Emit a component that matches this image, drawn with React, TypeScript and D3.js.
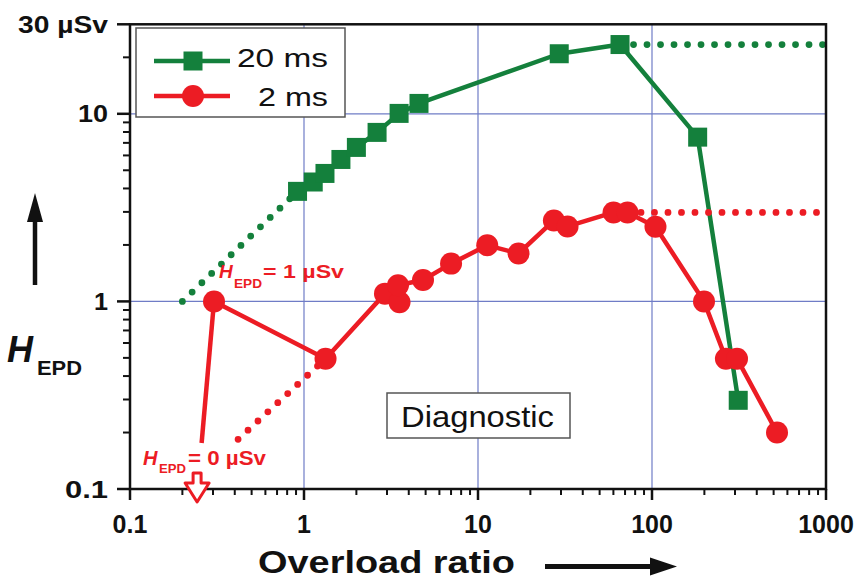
import React from "react";
import * as d3 from "d3";

const W = 859;
const H = 579;

// 20 ms series (green squares)
const greenX = [0.918, 1.13, 1.32, 1.63, 2.0, 2.63, 3.52, 4.58, 29.3, 65.5, 183, 313];
const greenY = [3.86, 4.33, 4.81, 5.71, 6.62, 7.96, 10.05, 11.36, 20.9, 23.4, 7.51, 0.297];
// 2 ms series (red circles)
const redX = [0.304, 1.33, 2.92, 3.54, 3.47, 4.83, 7.0, 11.3, 17.1, 27.3, 32.7, 60.1, 72.3, 104.7, 199, 266, 308, 523];
const redY = [1.0, 0.495, 1.1, 0.99, 1.22, 1.3, 1.59, 1.99, 1.8, 2.7, 2.51, 2.98, 2.98, 2.5, 1.0, 0.495, 0.495, 0.2];
// red solid tail toward H_EPD = 0
const redTailX = [0.258, 0.304];
const redTailY = [0.176, 1.0];
// dotted extrapolations
const greenLowX = [0.2, 0.918];
const greenLowY = [1.0, 3.86];
const greenHighX = [65.5, 1000];
const greenHighY = [23.4, 23.4];
const redLowX = [0.418, 1.33];
const redLowY = [0.184, 0.495];
const redHighX = [72.3, 1000];
const redHighY = [2.98, 2.98];
const zeroArrowX = 0.243;

const xMajor = [0.1, 1, 10, 100, 1000];
const xMajorLabels = ["0.1", "1", "10", "100", "1000"];
const yMajor = [0.1, 1, 10, 30];
const yMajorLabels = ["0.1", "1", "10", "30 µSv"];
const xGrid = [1, 10, 100];
const yGrid = [1, 10];

const GREEN = "#14803c";
const RED = "#ec1c24";
const GRID = "#6f7cc6";
const FONT = "'Liberation Sans', Arial, Helvetica, sans-serif";

export default function App() {
  const x = d3.scaleLog().domain([0.1, 1000]).range([130, 826]);
  const y = d3.scaleLog().domain([0.1, 30]).range([489, 24.3]);
  const line = d3
    .line<[number, number]>()
    .x((d) => x(d[0]))
    .y((d) => y(d[1]));
  const zip = (a: number[], b: number[]) => a.map((v, i) => [v, b[i]] as [number, number]);

  const xMinor: number[] = [];
  [0.1, 1, 10, 100].forEach((d) => {
    for (let k = 2; k <= 9; k++) xMinor.push(d * k);
  });
  const yMinor: number[] = [];
  [0.1, 1].forEach((d) => {
    for (let k = 2; k <= 9; k++) yMinor.push(d * k);
  });
  yMinor.push(20);

  const x0 = x(0.1);
  const x1 = x(1000);
  const y0 = y(0.1);
  const y1 = y(30);

  const ax = x(zeroArrowX);
  const dotted = { strokeDasharray: "0 13.5", strokeLinecap: "round" as const, strokeWidth: 6.8, fill: "none" };

  return (
    <svg width={W} height={H} style={{ position: "absolute", left: 0, top: 0, background: "#fff" }} fontFamily={FONT}>
      <rect x={0} y={0} width={W} height={H} fill="#fff" />
      {/* grid */}
      {xGrid.map((g) => (
        <line key={"gx" + g} x1={x(g)} x2={x(g)} y1={y0} y2={y1} stroke={GRID} strokeWidth={1.2} />
      ))}
      {yGrid.map((g) => (
        <line key={"gy" + g} x1={x0} x2={x1} y1={y(g)} y2={y(g)} stroke={GRID} strokeWidth={1.2} />
      ))}

      {/* green */}
      <path d={line(zip(greenLowX, greenLowY)) || ""} stroke={GREEN} {...dotted} />
      <path d={line(zip(greenHighX, greenHighY)) || ""} stroke={GREEN} {...dotted} />
      <path d={line(zip(greenX, greenY)) || ""} stroke={GREEN} strokeWidth={4.5} fill="none" strokeLinejoin="round" />
      {greenX.map((v, i) => (
        <rect key={"gs" + i} x={x(v) - 9.5} y={y(greenY[i]) - 9.5} width={19} height={19} fill={GREEN} />
      ))}

      {/* red */}
      <path d={line(zip(redLowX, redLowY)) || ""} stroke={RED} {...dotted} />
      <path d={line(zip(redHighX, redHighY)) || ""} stroke={RED} {...dotted} />
      <path d={line(zip(redTailX, redTailY)) || ""} stroke={RED} strokeWidth={4.5} fill="none" />
      <path d={line(zip(redX, redY)) || ""} stroke={RED} strokeWidth={4.5} fill="none" strokeLinejoin="round" />
      {redX.map((v, i) => (
        <circle key={"rc" + i} cx={x(v)} cy={y(redY[i])} r={11} fill={RED} />
      ))}

      {/* Diagnostic box */}
      <rect x={387} y={393} width={183} height={45} fill="#fff" stroke="#555" strokeWidth={1.5} />
      <text x={401} y={427} fontSize={30} textLength={153} lengthAdjust="spacingAndGlyphs" fill="#111">
        Diagnostic
      </text>

      {/* Legend */}
      <rect x={136} y={28} width={209} height={89} fill="#fff" stroke="#555" strokeWidth={1.5} />
      <line x1={154} x2={230} y1={61} y2={61} stroke={GREEN} strokeWidth={4.5} />
      <rect x={183.5} y={51.5} width={19} height={19} fill={GREEN} />
      <text x={237} y={67} fontSize={26} textLength={91} lengthAdjust="spacingAndGlyphs" fill="#111">
        20 ms
      </text>
      <line x1={154} x2={230} y1={96} y2={96} stroke={RED} strokeWidth={4.5} />
      <circle cx={193} cy={96} r={11} fill={RED} />
      <text x={258} y={106} fontSize={26} textLength={70} lengthAdjust="spacingAndGlyphs" fill="#111">
        2 ms
      </text>

      {/* axes frame */}
      <rect x={x0} y={y1} width={x1 - x0} height={y0 - y1} fill="none" stroke="#111" strokeWidth={2.5} />
      {xMajor.map((v) => (
        <line key={"xM" + v} x1={x(v)} x2={x(v)} y1={y0} y2={y0 + 11} stroke="#111" strokeWidth={2.5} />
      ))}
      {xMinor.map((v) => (
        <line key={"xm" + v} x1={x(v)} x2={x(v)} y1={y0} y2={y0 + 6} stroke="#111" strokeWidth={2} />
      ))}
      {yMajor.map((v) => (
        <line key={"yM" + v} x1={x0 - 13} x2={x0} y1={y(v)} y2={y(v)} stroke="#111" strokeWidth={2.5} />
      ))}
      {yMinor.map((v) => (
        <line key={"ym" + v} x1={x0 - 7} x2={x0} y1={y(v)} y2={y(v)} stroke="#111" strokeWidth={2} />
      ))}

      {/* x tick labels */}
      {xMajor.map((v, i) => (
        <text key={"xl" + v} x={x(v)} y={533} fontSize={25} fontWeight="bold" textAnchor="middle" fill="#111">
          {xMajorLabels[i]}
        </text>
      ))}
      {/* y tick labels */}
      {yMajor.map((v, i) => {
        const lens: Record<string, number> = { "0.1": 43, "1": 14, "10": 30, "30 µSv": 90 };
        const lab = yMajorLabels[i];
        return (
          <text
            key={"yl" + v}
            x={108 - lens[lab]}
            y={y(v) + 8.5}
            fontSize={23}
            fontWeight="bold"
            textLength={lens[lab]}
            lengthAdjust="spacingAndGlyphs"
            fill="#111"
          >
            {lab}
          </text>
        );
      })}

      {/* x axis title + arrow */}
      <text x={258} y={573} fontSize={32} fontWeight="bold" textLength={257} lengthAdjust="spacingAndGlyphs" fill="#111">
        Overload ratio
      </text>
      <line x1={545} x2={655} y1={566.5} y2={566.5} stroke="#111" strokeWidth={5} />
      <path d="M650,557.5 L677,566.5 L650,575.5 Z" fill="#111" />

      {/* y axis title + arrow */}
      <line x1={35} x2={35} y1={285} y2={215} stroke="#111" strokeWidth={4.5} />
      <path d="M27,222 L35,193 L43,222 Z" fill="#111" />
      <text x={7} y={362} fontSize={36} fontWeight="bold" fontStyle="italic" fill="#111">
        H
      </text>
      <text x={37} y={375} fontSize={21} fontWeight="bold" textLength={45} lengthAdjust="spacingAndGlyphs" fill="#111">
        EPD
      </text>

      {/* annotations */}
      <g fill={RED} fontWeight="bold">
        <text x={219} y={278} fontSize={19} fontStyle="italic">H</text>
        <text x={234} y={288} fontSize={12.5} textLength={28} lengthAdjust="spacingAndGlyphs">EPD</text>
        <text x={263} y={278} fontSize={19} textLength={81} lengthAdjust="spacingAndGlyphs">= 1 µSv</text>
        <text x={143} y={465} fontSize={20} fontStyle="italic">H</text>
        <text x={159} y={473} fontSize={12.5} textLength={27} lengthAdjust="spacingAndGlyphs">EPD</text>
        <text x={188} y={465} fontSize={20} textLength={78} lengthAdjust="spacingAndGlyphs">= 0 µSv</text>
      </g>
      {/* hollow down arrow at H_EPD = 0 */}
      <path
        d={`M${ax - 4},473 L${ax + 4},473 L${ax + 4},483 L${ax + 12},483 L${ax},502 L${ax - 12},483 L${ax - 4},483 Z`}
        fill="#fff"
        stroke={RED}
        strokeWidth={3}
        strokeLinejoin="round"
      />
    </svg>
  );
}
